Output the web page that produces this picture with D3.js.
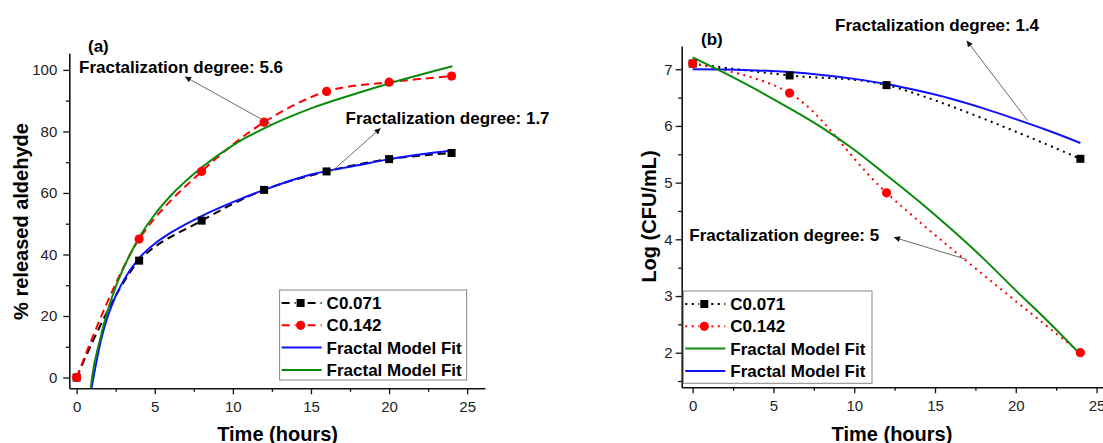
<!DOCTYPE html>
<html>
<head>
<meta charset="utf-8">
<script src="https://cdn.jsdelivr.net/npm/d3@7/dist/d3.min.js"></script>
<style>
  body { margin: 0; background: #fff; }
  svg { display: block; font-family: 'Liberation Sans', Arial, sans-serif; }
</style>
</head>
<body>
<svg id="chart" width="1103" height="443"></svg>
<script>
// Panel (a): released aldehyde
const timeA = [0, 4, 8, 12, 16, 20, 24]
const c071A = [0, 38, 51, 61, 67, 71, 73]
const c142A = [0, 45, 67, 83, 93, 96, 98]
const fitBlueTimeA = [0.95, 1.56, 2, 2.5, 3, 4, 5, 6, 8, 10, 12, 15, 18, 20, 24.05]
const fitBlueA = [-3.5, 12.2, 20, 26.5, 31.5, 38.8, 43.5, 47, 52.5, 57, 61, 66, 69, 71, 73.8]
const fitGreenTimeA = [0.9, 1.0, 1.5, 2, 2.5, 3, 4, 5, 6, 8, 10, 12, 15, 18, 20, 24.05]
const fitGreenA = [-3.5, 0.5, 12.4, 22, 29.5, 35.5, 45.5, 53, 59, 68.3, 75.5, 81, 87.5, 92.5, 95.6, 101.2]

// Panel (b): bacterial count
const timeB = [0, 6, 12, 24]
const c071B = [7.1, 6.89, 6.72, 5.42]
const c142B = [7.1, 6.58, 4.82, 2.0]
const fitTimeB = [0, 2, 4, 6, 8, 10, 12, 14, 16, 18, 20, 22, 24]
const fitBlueB = [7.0, 6.995, 6.98, 6.95, 6.9, 6.83, 6.74, 6.62, 6.48, 6.31, 6.12, 5.92, 5.70]
const fitGreenB = [7.21, 6.93, 6.63, 6.31, 5.97, 5.58, 5.13, 4.67, 4.18, 3.66, 3.1, 2.55, 1.97]

// Ticks
const xMajor = [0, 5, 10, 15, 20, 25]
const xMinor = [2.5, 7.5, 12.5, 17.5, 22.5]
const yMajorA = [0, 20, 40, 60, 80, 100]
const yMinorA = [10, 30, 50, 70, 90]
const yMajorB = [2, 3, 4, 5, 6, 7]
const yMinorB = [1.5, 2.5, 3.5, 4.5, 5.5, 6.5]

const zip = (xs, ys) => xs.map((t, i) => [t, ys[i]])

const panels = [
  {
    id: 'a',
    xDomain: [-0.47, 26.14], xRange: [69.3, 485],
    yDomain: [-3.5, 105.4], yRange: [388.3, 53.3],
    yMajor: yMajorA, yMinor: yMinorA, yPad: 6,
    xTitle: { text: 'Time (hours)', x: 277.6, y: 440.5 },
    yTitle: { text: '% released aldehyde', x: 28, y: 221.5 },
    tag: { text: '(a)', x: 88, y: 52 },
    data: [
      { pts: zip(timeA, c071A), color: '#000', dash: '8,5', marker: 'square' },
      { pts: zip(timeA, c142A), color: '#ff0000', dash: '8,5', marker: 'circle' },
    ],
    fits: [
      { pts: zip(fitBlueTimeA, fitBlueA), color: '#1010ff' },
      { pts: zip(fitGreenTimeA, fitGreenA), color: '#0a8a0a' },
    ],
    legend: {
      x: 279.6, y: 290, w: 187, h: 90,
      items: [
        { label: 'C0.071', color: '#000', dash: '8,5', marker: 'square' },
        { label: 'C0.142', color: '#ff0000', dash: '8,5', marker: 'circle' },
        { label: 'Fractal Model Fit', color: '#1010ff' },
        { label: 'Fractal Model Fit', color: '#0a8a0a' },
      ],
    },
    notes: [
      { text: 'Fractalization degree: 5.6', x: 79, y: 73, from: [271.8, 125], to: [185, 76.7] },
      { text: 'Fractalization degree: 1.7', x: 345.5, y: 124, from: [331.5, 171.7], to: [380.6, 128.3] },
    ],
  },
  {
    id: 'b',
    xDomain: [-0.68, 25.4], xRange: [681.7, 1103],
    yDomain: [1.39, 7.41], yRange: [387.3, 46],
    yMajor: yMajorB, yMinor: yMinorB, yPad: 3,
    xTitle: { text: 'Time (hours)', x: 892, y: 440.5 },
    yTitle: { text: 'Log (CFU/mL)', x: 656, y: 216.5 },
    tag: { text: '(b)', x: 701, y: 45 },
    data: [
      { pts: zip(timeB, c071B), color: '#000', dash: '2,4.5', marker: 'square' },
      { pts: zip(timeB, c142B), color: '#ff0000', dash: '2,4.5', marker: 'circle' },
    ],
    fits: [
      { pts: zip(fitTimeB, fitBlueB), color: '#1010ff' },
      { pts: zip(fitTimeB, fitGreenB), color: '#0a8a0a' },
    ],
    legend: {
      x: 683.3, y: 291, w: 188.7, h: 92.3,
      items: [
        { label: 'C0.071', color: '#000', dash: '2,4.5', marker: 'square' },
        { label: 'C0.142', color: '#ff0000', dash: '2,4.5', marker: 'circle' },
        { label: 'Fractal Model Fit', color: '#0a8a0a' },
        { label: 'Fractal Model Fit', color: '#1010ff' },
      ],
    },
    notes: [
      { text: 'Fractalization degree: 1.4', x: 835, y: 31, from: [1027.7, 120.7], to: [966.7, 40.7] },
      { text: 'Fractalization degree: 5', x: 689.3, y: 241, from: [966.2, 259.3], to: [893.9, 237.3] },
    ],
  },
]

const svg = d3.select('#chart')
const fmt = d3.format('~g')

// Arrowhead

svg.append('defs')
  .append('marker')
  .attr('id', 'arrow')
  .attr('viewBox', '0 0 10 10')
  .attr('refX', 10)
  .attr('refY', 5)
  .attr('markerUnits', 'userSpaceOnUse')
  .attr('markerWidth', 8)
  .attr('markerHeight', 6)
  .attr('orient', 'auto')
  .append('path')
  .attr('d', 'M0,0L10,5L0,10z')
  .attr('fill', '#111')

function drawMarker(g, kind, color, cx, cy) {
  if (kind === 'square') {
    g.append('rect')
      .attr('x', cx - 4).attr('y', cy - 4)
      .attr('width', 8).attr('height', 8)
      .attr('fill', color)
  } else if (kind === 'circle') {
    g.append('circle')
      .attr('cx', cx).attr('cy', cy).attr('r', 4.6)
      .attr('fill', color)
  }
}

panels.forEach(p => {
  const x = d3.scaleLinear().domain(p.xDomain).range(p.xRange)
  const y = d3.scaleLinear().domain(p.yDomain).range(p.yRange)
  const g = svg.append('g').attr('class', `panel-${p.id}`)

  g.append('clipPath')
    .attr('id', `clip-${p.id}`)
    .append('rect')
    .attr('x', p.xRange[0]).attr('y', p.yRange[1])
    .attr('width', p.xRange[1] - p.xRange[0])
    .attr('height', p.yRange[0] - p.yRange[1])

  // Axes

  g.append('g')
    .attr('transform', `translate(0,${p.yRange[0]})`)
    .call(d3.axisBottom(x).tickValues(xMajor).tickFormat(fmt).tickSize(6).tickSizeOuter(0).tickPadding(7))
  g.append('g')
    .attr('transform', `translate(0,${p.yRange[0]})`)
    .call(d3.axisBottom(x).tickValues(xMinor).tickSize(3.5).tickFormat(''))
    .call(s => s.select('.domain').remove())

  g.append('g')
    .attr('transform', `translate(${p.xRange[0]},0)`)
    .call(d3.axisLeft(y).tickValues(p.yMajor).tickFormat(fmt).tickSize(6).tickSizeOuter(0).tickPadding(p.yPad))
  g.append('g')
    .attr('transform', `translate(${p.xRange[0]},0)`)
    .call(d3.axisLeft(y).tickValues(p.yMinor).tickSize(3.5).tickFormat(''))
    .call(s => s.select('.domain').remove())

  g.selectAll('.domain').attr('stroke', '#111').attr('stroke-width', 1.6)
  g.selectAll('.tick line').attr('stroke', '#111').attr('stroke-width', 1.3)
  g.selectAll('.tick text')
    .attr('font-family', "'Liberation Sans', Arial, sans-serif")
    .attr('font-size', 15)
    .attr('fill', '#222')

  // Titles

  g.append('text')
    .attr('x', p.xTitle.x).attr('y', p.xTitle.y)
    .attr('text-anchor', 'middle')
    .attr('font-size', 20).attr('font-weight', 'bold')
    .text(p.xTitle.text)

  g.append('text')
    .attr('transform', `translate(${p.yTitle.x},${p.yTitle.y}) rotate(-90)`)
    .attr('text-anchor', 'middle')
    .attr('font-size', 20).attr('font-weight', 'bold')
    .text(p.yTitle.text)

  g.append('text')
    .attr('x', p.tag.x).attr('y', p.tag.y)
    .attr('font-size', 17).attr('font-weight', 'bold')
    .text(p.tag.text)

  // Series

  const plot = g.append('g').attr('clip-path', `url(#clip-${p.id})`)

  const dataLine = d3.line()
    .x(d => x(d[0])).y(d => y(d[1]))
    .curve(d3.curveCatmullRom.alpha(0.5))
  const fitLine = d3.line()
    .x(d => x(d[0])).y(d => y(d[1]))
    .curve(d3.curveMonotoneX)

  p.data.forEach(s => {
    plot.append('path')
      .attr('d', dataLine(s.pts))
      .attr('fill', 'none')
      .attr('stroke', s.color)
      .attr('stroke-width', 2)
      .attr('stroke-dasharray', s.dash)
  })

  p.fits.forEach(s => {
    plot.append('path')
      .attr('d', fitLine(s.pts))
      .attr('fill', 'none')
      .attr('stroke', s.color)
      .attr('stroke-width', 2)
  })

  p.data.forEach(s => {
    s.pts.forEach(d => drawMarker(plot, s.marker, s.color, x(d[0]), y(d[1])))
  })

  // Legend

  const lg = g.append('g').attr('transform', `translate(${p.legend.x},${p.legend.y})`)
  lg.append('rect')
    .attr('width', p.legend.w).attr('height', p.legend.h)
    .attr('fill', '#fff')
    .attr('stroke', '#888').attr('stroke-width', 1)

  p.legend.items.forEach((it, i) => {
    const cy = 13 + i * 22.3
    lg.append('line')
      .attr('x1', 2).attr('x2', 42).attr('y1', cy).attr('y2', cy)
      .attr('stroke', it.color).attr('stroke-width', 2)
      .attr('stroke-dasharray', it.dash || null)
    if (it.marker) {
      lg.append('rect')
        .attr('x', 16).attr('y', cy - 5).attr('width', 10).attr('height', 10)
        .attr('fill', '#fff')
      drawMarker(lg, it.marker, it.color, 21, cy)
    }
    lg.append('text')
      .attr('x', 47).attr('y', cy + 6)
      .attr('font-size', 17).attr('font-weight', 'bold')
      .text(it.label)
  })

  // Annotations

  p.notes.forEach(n => {
    g.append('line')
      .attr('x1', n.from[0]).attr('y1', n.from[1])
      .attr('x2', n.to[0]).attr('y2', n.to[1])
      .attr('stroke', '#444').attr('stroke-width', 0.8)
      .attr('marker-end', 'url(#arrow)')
    g.append('text')
      .attr('x', n.x).attr('y', n.y)
      .attr('font-size', 17).attr('font-weight', 'bold')
      .text(n.text)
  })
})
</script>
</body>
</html>
